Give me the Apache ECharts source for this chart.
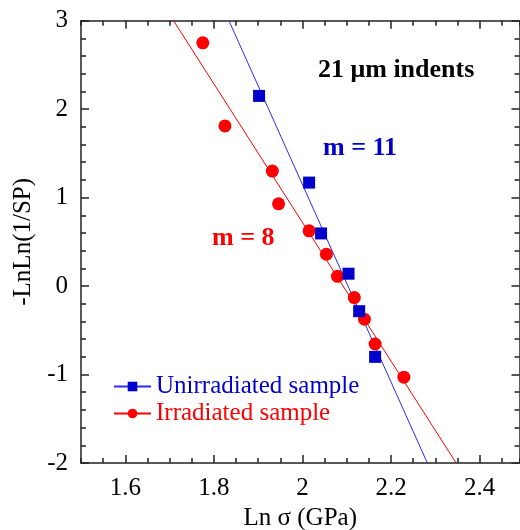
<!DOCTYPE html>
<html>
<head>
<meta charset="utf-8">
<script src="https://cdn.jsdelivr.net/npm/echarts@6/dist/echarts.min.js"></script>
<style>
  html, body { margin: 0; padding: 0; background: #fff; }
  #chart { width: 520px; height: 530px; }
</style>
</head>
<body>
<div id="chart"></div>
<script>
// data: [ln sigma, -lnln(1/SP)]
const unirradiated = [
  [1.902, 2.15], [2.015, 1.17], [2.042, 0.595],
  [2.104, 0.14], [2.128, -0.284], [2.164, -0.80]
];
const irradiated = [
  [1.775, 2.75], [1.825, 1.81], [1.932, 1.30], [1.946, 0.93],
  [2.015, 0.625], [2.054, 0.36], [2.079, 0.11], [2.117, -0.13],
  [2.140, -0.375], [2.164, -0.655], [2.229, -1.03]
];
// Weibull fit lines (ends at the frame)
const fitUnirr = [[1.834, 3], [2.282, -2]];
const fitIrr = [[1.709, 3], [2.347, -2]];

const xMajor = [1.6, 1.8, 2, 2.2, 2.4];

const BLUE = "#0000cc";
const RED = "#ff0000";
const FONT = "Liberation Serif";
const FS = 25;
const AXIS_COLOR = "#222";
const TICK = { color: "#222", width: 1.5 };

const chart = echarts.init(document.getElementById("chart"));

// two axes per side: one with the 0.05 minor ticks + line, one with the long major ticks
function xAx(pos, major, extra) {
  return Object.assign({
    type: "value",
    position: pos,
    min: 1.5,
    max: 2.49,
    interval: 0.05,
    splitLine: { show: false },
    axisLine: { show: !major, onZero: false, lineStyle: { color: AXIS_COLOR, width: 1.5 } },
    axisTick: major
      ? { show: true, inside: true, length: 8, customValues: xMajor, lineStyle: TICK }
      : { show: true, inside: true, length: 5, lineStyle: TICK },
    axisLabel: { show: false }
  }, extra || {});
}

function yAx(pos, extra) {
  return Object.assign({
    type: "value",
    position: pos,
    min: -2,
    max: 3,
    interval: 1,
    splitLine: { show: false },
    axisLine: { show: true, onZero: false, lineStyle: { color: AXIS_COLOR, width: 1.5 } },
    axisTick: { show: true, inside: true, length: 8, lineStyle: TICK },
    minorTick: { show: true, splitNumber: 5, length: 5, lineStyle: TICK },
    axisLabel: { show: false }
  }, extra || {});
}

const option = {
  animation: false,
  backgroundColor: "#fff",
  grid: { left: 81, right: 0.5, top: 20.7, bottom: 67, containLabel: false, outerBoundsMode: "none" },
  xAxis: [
    xAx("bottom", false, {
      name: "Ln σ (GPa)",
      nameLocation: "middle",
      nameGap: 42,
      nameTextStyle: { fontFamily: FONT, fontSize: FS, color: "#000" },
      axisLabel: {
        show: true, customValues: xMajor, margin: 13,
        fontFamily: FONT, fontSize: FS, color: "#000"
      }
    }),
    xAx("bottom", true),
    xAx("top", false),
    xAx("top", true)
  ],
  yAxis: [
    yAx("left", {
      name: "-LnLn(1/SP)",
      nameLocation: "middle",
      nameGap: 45,
      nameRotate: 90,
      nameTextStyle: { fontFamily: FONT, fontSize: FS, color: "#000" },
      axisLabel: {
        show: true, margin: 13,
        fontFamily: FONT, fontSize: FS, color: "#000"
      }
    }),
    yAx("right")
  ],
  legend: {
    orient: "vertical",
    left: 113,
    top: 374,
    padding: 0,
    itemWidth: 37,
    itemHeight: 12,
    itemGap: 2,
    textStyle: { fontFamily: FONT, fontSize: FS },
    data: [
      { name: "Unirradiated sample", textStyle: { color: BLUE } },
      { name: "Irradiated sample", textStyle: { color: RED } }
    ]
  },
  series: [
    {
      name: "Unirradiated sample",
      type: "line",
      data: fitUnirr,
      showSymbol: false,
      symbol: "rect",
      symbolSize: 12,
      itemStyle: { color: BLUE },
      lineStyle: { color: "#2a2aff", width: 1 },
      z: 2
    },
    {
      name: "Irradiated sample",
      type: "line",
      data: fitIrr,
      showSymbol: false,
      symbol: "circle",
      symbolSize: 12,
      itemStyle: { color: RED },
      lineStyle: { color: RED, width: 1 },
      z: 2
    },
    {
      name: "unirr points",
      type: "scatter",
      data: unirradiated,
      symbol: "rect",
      symbolSize: 12,
      itemStyle: { color: BLUE, opacity: 1 },
      z: 4
    },
    {
      name: "irr points",
      type: "scatter",
      data: irradiated,
      symbol: "circle",
      symbolSize: 13,
      itemStyle: { color: RED, opacity: 1 },
      z: 3
    }
  ],
  graphic: [
    {
      type: "text", left: 318, top: 57,
      style: { text: "21 μm indents", font: "bold 26px " + FONT, fill: "#000" }
    },
    {
      type: "text", left: 323, top: 135,
      style: { text: "m = 11", font: "bold 26px " + FONT, fill: BLUE }
    },
    {
      type: "text", left: 212, top: 225,
      style: { text: "m = 8", font: "bold 26px " + FONT, fill: RED }
    }
  ]
};

chart.setOption(option);
</script>
</body>
</html>
